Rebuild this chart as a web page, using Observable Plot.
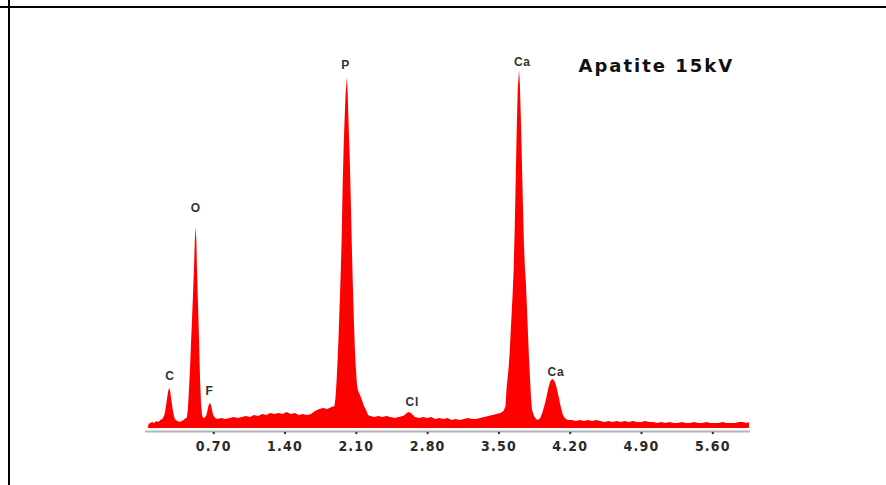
<!DOCTYPE html>
<html><head><meta charset="utf-8">
<script src="https://cdn.jsdelivr.net/npm/d3@7"></script>
<script src="https://cdn.jsdelivr.net/npm/@observablehq/plot@0.6"></script>
<style>
html,body{margin:0;padding:0;background:#fff;}
#wrap{position:relative;width:886px;height:485px;overflow:hidden;}
#wrap svg{position:absolute;left:0;top:0;}
.hline{position:absolute;left:0;top:6px;width:886px;height:2px;background:#000;}
.vline{position:absolute;left:8px;top:0;width:2px;height:485px;background:#000;}
g[aria-label="x-axis tick label"] text{letter-spacing:1.2px;}
text[aria-label="peak labels"]{letter-spacing:0.8px;}
text[aria-label="title"]{letter-spacing:2px;}
</style></head><body><div id="wrap"><div class="hline"></div><div class="vline"></div></div>
<script>
// EDS spectrum of apatite at 15 kV (energy in keV, counts in arbitrary units)
const energy = [
  0.06,0.08,0.10,0.12,0.14,0.16,0.18,0.20,
  0.22,0.23,0.24,0.25,0.26,0.27,0.28,0.29,0.30,0.31,0.32,0.33,0.35,0.37,0.39,
  0.41,0.43,0.44,0.45,0.46,0.47,0.48,0.49,0.50,0.51,0.52,0.528,0.535,0.54,0.55,0.56,0.57,0.58,0.59,0.60,
  0.61,0.63,0.64,0.65,0.66,0.67,0.68,0.69,0.70,0.72,0.74,
  0.78,0.82,0.86,0.90,0.94,0.98,1.02,1.06,1.10,1.14,1.18,1.22,1.26,1.30,1.34,1.38,1.42,1.46,1.50,1.54,1.58,1.62,1.66,1.70,1.74,1.78,1.82,1.86,
  1.89,1.90,1.91,1.92,1.93,1.94,1.95,1.96,1.97,1.98,1.99,2.00,2.013,2.02,2.03,2.04,2.05,2.06,2.07,2.08,2.09,2.10,2.11,2.12,2.14,2.16,2.18,2.20,2.22,2.24,
  2.28,2.32,2.36,2.40,2.44,2.48,2.52,2.56,
  2.58,2.60,2.62,2.64,2.66,2.68,
  2.72,2.76,2.80,2.84,2.88,2.92,2.96,3.00,3.04,3.08,3.12,3.16,3.20,3.24,3.28,3.32,3.36,3.40,3.44,
  3.48,3.52,3.55,3.57,3.58,3.59,3.60,3.61,3.62,3.63,3.64,3.65,3.66,3.67,3.68,3.69,3.703,3.71,3.72,3.73,3.74,3.75,3.76,3.77,3.78,3.79,3.80,3.81,3.82,3.83,3.85,3.87,3.89,
  3.91,3.93,3.95,3.97,3.99,4.01,4.03,4.05,4.07,4.09,4.11,4.13,4.15,4.18,
  4.22,4.26,4.30,4.34,4.38,4.42,4.46,4.50,4.54,4.58,4.62,4.66,4.70,4.74,4.78,4.82,4.86,4.90,4.94,4.98,
  5.02,5.06,5.10,5.14,5.18,5.22,5.26,5.30,5.34,5.38,5.42,5.46,5.50,5.54,5.58,5.62,5.66,5.70,5.74,5.78,5.82,5.86,5.90,5.94,5.96
];
const counts = [
  3,5,6,5,7,6,8,9,
  13,18,25,32,38,40,35,27,20,14,10,8,7,6,7,
  8,10,10,18,35,55,80,105,130,158,190,201,185,160,125,90,50,25,13,10,
  10,12,16,21,24,25,22,17,13,10,9,
  10,9,10,11,10,11,12,11,13,12,14,13,15,14,15,14,16,14,15,13,14,13,14,17,19,20,19,21,
  22,30,45,65,90,120,150,185,240,280,310,335,351,335,300,270,230,185,145,110,80,60,45,38,33,28,22,18,13,12,
  11,12,11,12,11,10,11,12,
  13,15,16,15,13,11,
  10,11,10,11,9,10,9,10,8,9,8,9,10,9,9,10,11,12,13,
  14,15,17,22,40,50,60,75,95,115,135,160,200,250,300,340,358,345,310,270,225,185,160,145,120,95,70,50,30,18,12,9,8,
  10,15,22,30,40,47,49,47,41,32,22,14,10,8,
  8,7,8,7,8,7,8,7,6,7,6,7,6,7,6,7,6,6,7,6,
  6,5,6,5,6,5,5,6,5,5,6,5,5,6,5,5,5,6,5,5,5,6,6,5,6
];
const tickValues = [0.70, 1.40, 2.10, 2.80, 3.50, 4.20, 4.90, 5.60];
const peakNames = ["C", "O", "F", "P", "Cl", "Ca", "Ca"];
const peakNameEnergy = [0.27, 0.525, 0.658, 1.994, 2.65, 3.73, 4.06];
const peakNameCount = [52, 220, 37, 363, 26, 366, 56];
const titleText = ["Apatite 15kV"];
const titleEnergy = [4.281];
const titleCount = [362];

const spectrum = energy.map((e, i) => ({e, c: counts[i]}));
const peaks = peakNames.map((t, i) => ({t, e: peakNameEnergy[i], c: peakNameCount[i]}));
const title = titleText.map((t, i) => ({t, e: titleEnergy[i], c: titleCount[i]}));

const plot = Plot.plot({
  width: 886, height: 485,
  marginLeft: 145, marginRight: 136, marginTop: 48, marginBottom: 57,
  x: {domain: [0.03, 5.97]},
  y: {domain: [0, 380], axis: null},
  style: {background: "transparent", overflow: "visible"},
  marks: [
    Plot.ruleY([0], {dy: 3, stroke: "#b4b4b4", strokeWidth: 2}),
    Plot.areaY(spectrum, {x: "e", y: "c", fill: "#ff0000", curve: "linear"}),
    Plot.dot(tickValues, {x: d => d, y: 0, dy: 4.5, r: 1.2, fill: "#333"}),
    Plot.axisX({ticks: tickValues, tickSize: 0, tickPadding: 13, tickFormat: d => d.toFixed(2),
      fontSize: 14, fontWeight: "bold", fontFamily: "'Liberation Sans Narrow', 'DejaVu Sans Condensed', sans-serif",
      fill: "#2b2b2b", label: null}),
    Plot.text(peaks, {x: "e", y: "c", text: "t", fontSize: 12, fontWeight: "bold",
      fontFamily: "'Liberation Sans', Arial, sans-serif", fill: "#333", ariaLabel: () => "peak labels"}),
    Plot.text(title, {x: "e", y: "c", text: "t", textAnchor: "start", fontSize: 18, fontWeight: "bold",
      fontFamily: "'DejaVu Sans', sans-serif", fill: "#111", ariaLabel: () => "title"})
  ]
});
document.getElementById("wrap").prepend(plot);
</script>
</body></html>
